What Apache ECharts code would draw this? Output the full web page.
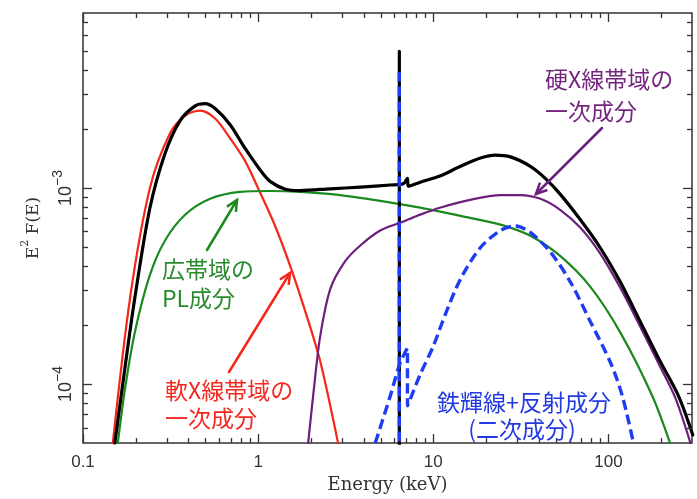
<!DOCTYPE html>
<html><head><meta charset="utf-8">
<script src="https://cdn.jsdelivr.net/npm/echarts@6/dist/echarts.min.js"></script>
<style>html,body{margin:0;padding:0;background:#fff}#c{width:697px;height:499px}</style>
</head><body><div id="c"></div>
<script>
// ---- axis ranges & ticks ----
const X_MIN = 0.1, X_MAX = 300;
const Y_MIN = 5.0e-5, Y_MAX = 7.8e-3;
const xMajorTicks = [0.1, 1, 10, 100];
const xMinorTicks = [0.2,0.3,0.4,0.5,0.6,0.7,0.8,0.9,2,3,4,5,6,7,8,9,20,30,40,50,60,70,80,90,200];
const yMajorTicks = [1e-4, 1e-3];
const yMinorTicks = [6e-5,7e-5,8e-5,9e-5,2e-4,3e-4,4e-4,5e-4,6e-4,7e-4,8e-4,9e-4,2e-3,3e-3,4e-3,5e-3,6e-3,7e-3];

// ---- series data (Energy keV, E^2 F(E)) ----
const totalE = [0.152,0.174,0.198,0.241,0.294,0.358,0.437,0.498,0.568,0.692,0.843,1.03,1.17,1.43,1.74,2.58,3.83,5.68,6.74,7.11,7.2,8.42,10.9,14.3,18.6,22.6,27.6,35.8,43.6,53.0,69.0,89.6,117,152,197,251,303];
const totalF = [5.0e-5,1.23e-4,2.78e-4,7.9e-4,1.5e-3,2.2e-3,2.62e-3,2.69e-3,2.54e-3,2.1e-3,1.59e-3,1.23e-3,1.08e-3,9.85e-4,9.7e-4,9.9e-4,1.01e-3,1.035e-3,1.05e-3,1.12e-3,1.02e-3,1.07e-3,1.15e-3,1.29e-3,1.42e-3,1.47e-3,1.44e-3,1.29e-3,1.12e-3,9.3e-4,6.9e-4,4.97e-4,3.31e-4,2.08e-4,1.31e-4,8.7e-5,5.5e-5];

const softE = [0.148,0.186,0.241,0.314,0.383,0.466,0.568,0.692,0.843,1.03,1.25,1.52,1.86,2.26,2.86];
const softF = [5.0e-5,2.78e-4,1.0e-3,1.9e-3,2.34e-3,2.48e-3,2.26e-3,1.79e-3,1.37e-3,9.4e-4,6.4e-4,4.03e-4,2.34e-4,1.31e-4,5.0e-5];

const plE = [0.158,0.174,0.198,0.241,0.294,0.383,0.532,0.789,1.17,1.74,2.94,4.98,8.42,14.3,24.2,35.8,53,78.9,117,178,225];
const plF = [5.0e-5,9.55e-5,1.85e-4,3.6e-4,5.4e-4,7.3e-4,8.8e-4,9.55e-4,9.65e-4,9.55e-4,9.2e-4,8.6e-4,7.93e-4,7.2e-4,6.5e-4,5.7e-4,4.5e-4,3.13e-4,1.83e-4,8.7e-5,5.0e-5];

const hardE = [1.93,2.09,2.26,2.58,3.14,3.83,4.98,6.5,8.42,10.9,16.2,24.2,31.4,40.9,53,69,89.6,117,152,197,241,294];
const hardF = [5.0e-5,9.8e-5,1.75e-4,3.05e-4,4.23e-4,5.09e-4,6.07e-4,6.66e-4,7.31e-4,7.93e-4,8.7e-4,9.2e-4,9.2e-4,8.8e-4,7.74e-4,6.28e-4,4.64e-4,3.09e-4,1.96e-4,1.23e-4,8.5e-5,5.0e-5];

const reflE = [4.66,5.68,6.48,7.11,7.13,8.42,10.0,11.7,14.3,18.6,24.2,29.4,35.8,46.7,60.7,78.9,103,120,139];
const reflF = [5.0e-5,8.7e-5,1.29e-4,1.52e-4,7.74e-5,1.12e-4,1.56e-4,2.26e-4,3.43e-4,4.97e-4,6.07e-4,6.4e-4,5.93e-4,4.7e-4,3.31e-4,2.08e-4,1.28e-4,8.7e-5,5.0e-5];

const feLineE = [6.4, 6.4];
const feLineTotalF = [3.0e-5, 4.97e-3];
const feLineReflF = [3.0e-5, 3.9e-3];

// ---- colours ----
const C_BLACK = '#000000', C_RED = '#f6261a', C_GREEN = '#1a8a1f', C_PURPLE = '#6c1f7c', C_BLUE = '#1f3cf2';
const AX = '#333333';

const zip = (xs, ys) => xs.map((x, i) => [x, ys[i]]);
const isPow10 = v => Math.abs(Math.log10(v) - Math.round(Math.log10(v))) < 1e-6;

function lineSeries(name, E, F, color, width, extra) {
  return Object.assign({
    name, type: 'line', data: zip(E, F), showSymbol: false, symbol: 'none',
    smooth: 0.3, clip: true,
    lineStyle: { color, width, cap: 'round', join: 'round' }, silent: true
  }, extra || {});
}

const chart = echarts.init(document.getElementById('c'));
chart.setOption({
  animation: false,
  backgroundColor: '#ffffff',
  grid: { left: 83, right: 5, top: 13, bottom: 52, show: true, borderColor: AX, borderWidth: 1.5 },
  xAxis: {
    type: 'log', logBase: 10, min: X_MIN, max: X_MAX,
    axisLine: { show: false }, axisTick: { show: false }, splitLine: { show: false },
    axisLabel: {
      margin: 11, fontFamily: 'Liberation Sans', fontSize: 17, color: AX,
      formatter: v => isPow10(v) ? String(Number(v.toPrecision(6))) : ''
    },
    name: 'Energy (keV)', nameLocation: 'middle', nameGap: 32,
    nameTextStyle: { fontFamily: 'DejaVu Serif', fontSize: 18, color: AX }
  },
  yAxis: {
    type: 'log', logBase: 10, min: Y_MIN, max: Y_MAX,
    axisLine: { show: false }, axisTick: { show: false }, splitLine: { show: false },
    axisLabel: {
      margin: 8, rotate: 90, color: AX,
      formatter: v => isPow10(v) ? '{b|10}{s|\u2212' + Math.abs(Math.round(Math.log10(v))) + '}' : '',
      rich: {
        b: { fontFamily: 'Liberation Sans', fontSize: 18, color: AX, lineHeight: 24, verticalAlign: 'bottom' },
        s: { fontFamily: 'Liberation Sans', fontSize: 14, color: AX, lineHeight: 24, verticalAlign: 'top' }
      }
    },
    name: '{b|E}{s|2}{b| F(E)}', nameLocation: 'middle', nameRotate: 90, nameGap: 41,
    nameTextStyle: {
      rich: {
        b: { fontFamily: 'DejaVu Serif', fontSize: 17, color: AX, lineHeight: 22, verticalAlign: 'bottom' },
        s: { fontFamily: 'DejaVu Serif', fontSize: 11, color: AX, lineHeight: 22, verticalAlign: 'top' }
      }
    }
  },
  series: [
    lineSeries('軟X線帯域の一次成分', softE, softF, C_RED, 2.2),
    lineSeries('広帯域のPL成分', plE, plF, C_GREEN, 2.2),
    lineSeries('硬X線帯域の一次成分', hardE, hardF, C_PURPLE, 2.2),
    lineSeries('合計', totalE, totalF, C_BLACK, 3.2),
    lineSeries('鉄輝線(合計)', feLineE, feLineTotalF, C_BLACK, 3.2, { smooth: false }),
    lineSeries('鉄輝線+反射成分', reflE, reflF, C_BLUE, 3.4, { lineStyle: { color: C_BLUE, width: 3.4, type: [10, 5] } }),
    lineSeries('鉄輝線', feLineE, feLineReflF, C_BLUE, 3.4, { smooth: false, lineStyle: { color: C_BLUE, width: 3.4, type: [10, 5] } })
  ]
});

// ---- ticks (inside, mirrored on all four sides) drawn via axis scale ----
const px = v => chart.convertToPixel({ xAxisIndex: 0 }, v);
const py = v => chart.convertToPixel({ yAxisIndex: 0 }, v);
const gx0 = px(X_MIN), gx1 = px(X_MAX), gy0 = py(Y_MIN), gy1 = py(Y_MAX);
const g = [];
function tickLine(x1, y1, x2, y2) {
  g.push({ type: 'line', silent: true, z: 10, shape: { x1, y1, x2, y2 }, style: { stroke: AX, lineWidth: 1.3 } });
}
xMajorTicks.concat(xMinorTicks).forEach(v => {
  const L = xMajorTicks.includes(v) ? 9 : 5;
  const x = Math.round(px(v)) + 0.5;
  tickLine(x, gy0, x, gy0 - L);
  tickLine(x, gy1, x, gy1 + L);
});
yMajorTicks.concat(yMinorTicks).forEach(v => {
  const L = yMajorTicks.includes(v) ? 9 : 5;
  const y = Math.round(py(v)) + 0.5;
  tickLine(gx0, y, gx0 + L, y);
  tickLine(gx1, y, gx1 - L, y);
});

// ---- annotations ----
const JP = '"Noto Sans CJK JP", "Noto Sans CJK SC", sans-serif';
function label(text, x, y, color, align) {
  g.push({ type: 'text', silent: true, z: 20, x, y,
    style: { text, fill: color, font: '23px ' + JP, align: align || 'left', verticalAlign: 'middle' } });
}
function arrow(x1, y1, x2, y2, color) {
  g.push({ type: 'line', silent: true, z: 15, shape: { x1, y1, x2, y2 }, style: { stroke: color, lineWidth: 2.5, lineCap: 'round' } });
  const a = Math.atan2(y1 - y2, x1 - x2), len = 12, sp = 0.45;
  g.push({ type: 'polyline', silent: true, z: 15,
    shape: { points: [[x2 + len * Math.cos(a + sp), y2 + len * Math.sin(a + sp)], [x2, y2], [x2 + len * Math.cos(a - sp), y2 + len * Math.sin(a - sp)]] },
    style: { stroke: color, lineWidth: 2.5, fill: null, lineJoin: 'miter' } });
}
const T_GREEN = '#2a8a2e', T_RED = '#f4281e', T_PURPLE = '#74267f', T_BLUE = '#2339e2';
label('硬X線帯域の', 545, 79, T_PURPLE);
label('一次成分', 545, 111, T_PURPLE);
arrow(602, 128, 536, 194, C_PURPLE);
label('広帯域の', 162, 269, T_GREEN);
label('PL成分', 162, 298, T_GREEN);
arrow(207, 250, 237, 200, C_GREEN);
label('軟X線帯域の', 165, 390, T_RED);
label('一次成分', 165, 418, T_RED);
arrow(229, 372, 290, 273, C_RED);
label('鉄輝線+反射成分', 524, 402, T_BLUE, 'center');
label('(二次成分)', 522, 429, T_BLUE, 'center');

chart.setOption({ graphic: g });
</script>
</body></html>
